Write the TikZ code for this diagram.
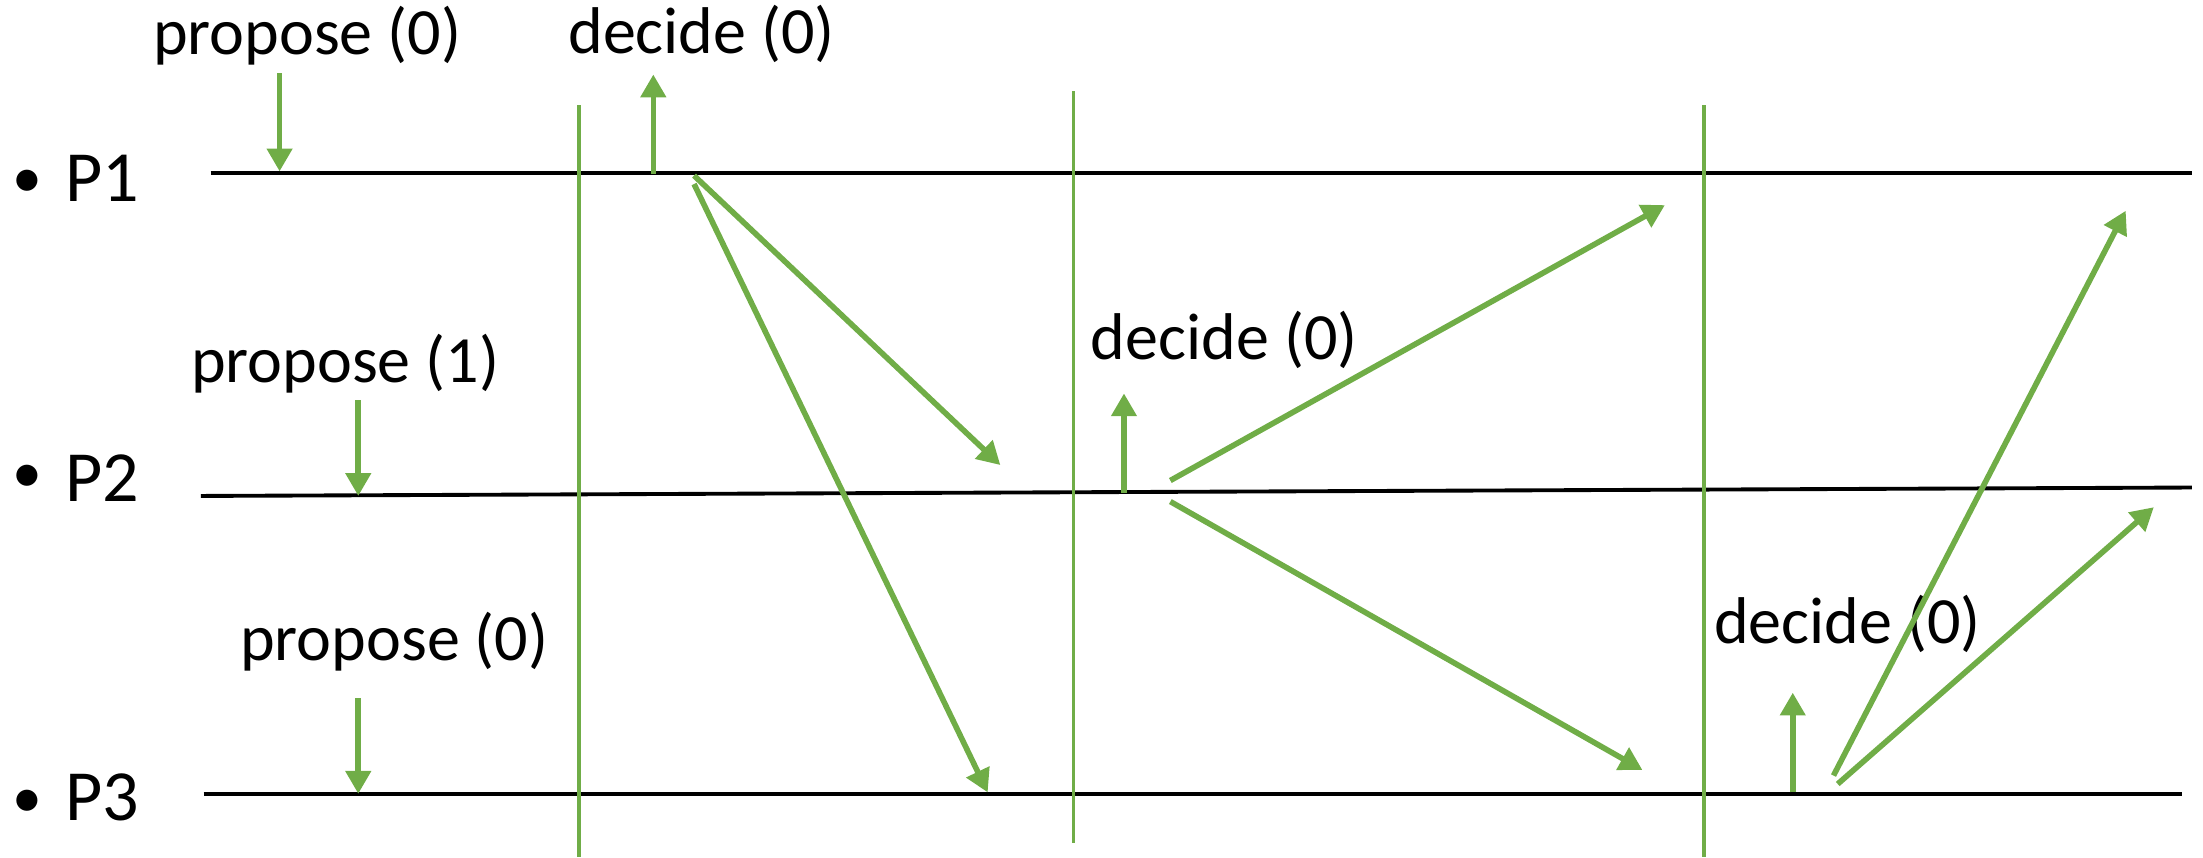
\documentclass[tikz,border=0pt]{standalone}
\usepackage{fontspec}
\setmainfont{Carlito}
\usetikzlibrary{arrows.meta}
\definecolor{ogreen}{HTML}{70AD47}
\tikzset{
  lbl/.style={anchor=base west, inner sep=0pt, font=\fontsize{18.8}{22}\selectfont},
  plbl/.style={anchor=base west, inner sep=0pt, font=\fontsize{20.5}{24}\selectfont},
  bul/.style={inner sep=0pt, font=\fontsize{17}{20}\selectfont},
  proc/.style={black, line width=1.1pt},
  round/.style={ogreen, line width=1pt},
  msg/.style={ogreen, line width=1.6pt, -{Triangle[length=6.5pt,width=7pt]}},
}
\begin{document}
\begin{tikzpicture}[x=0.01405cm, y=-0.01405cm]
\useasboundingbox (0,0) rectangle (1568,610);
% process labels
\node[bul] (b1) at (19.7,131) {•};
\node[plbl] (p1) at (46,143.5) {P1};
\node[bul] (b2) at (19.7,341) {•};
\node[plbl] (p2) at (46,356.6) {P2};
\node[bul] (b3) at (19.7,572) {•};
\node[plbl] (p3) at (46,584) {P3};
% process lines
\coordinate (l1a) at (150,123); \coordinate (l1b) at (1560,123);
\coordinate (l2a) at (143,353); \coordinate (l2b) at (1560,347);
\coordinate (l3a) at (145,565); \coordinate (l3b) at (1553,565);
\draw[proc] (l1a) -- (l1b);
\draw[proc] (l2a) -- (l2b);
\draw[proc] (l3a) -- (l3b);
% round separators
\coordinate (r1a) at (412,75);  \coordinate (r1b) at (412,610);
\coordinate (r2a) at (764,65);  \coordinate (r2b) at (764,600);
\coordinate (r3a) at (1213,75); \coordinate (r3b) at (1213,610);
\draw[round] (r1a) -- (r1b);
\draw[round] (r2a) -- (r2b);
\draw[round] (r3a) -- (r3b);
% labels
\node[lbl] (prop1) at (108.5,39) {propose (0)};
\node[lbl] (prop2) at (135.5,272.6) {propose (1)};
\node[lbl] (prop3) at (170.5,470) {propose (0)};
\node[lbl] (dec1) at (404,38) {decide (0)};
\node[lbl] (dec2) at (776,255.6) {decide (0)};
\node[lbl] (dec3) at (1219.5,458) {decide (0)};
% propose arrows
\coordinate (pa1s) at (199,52);  \coordinate (pa1e) at (199,122);
\coordinate (pa2s) at (255,285); \coordinate (pa2e) at (255,353);
\coordinate (pa3s) at (255,497); \coordinate (pa3e) at (255,565);
\draw[msg] (pa1s) -- (pa1e);
\draw[msg] (pa2s) -- (pa2e);
\draw[msg] (pa3s) -- (pa3e);
% decide arrows
\coordinate (da1s) at (465,124); \coordinate (da1e) at (465,53);
\coordinate (da2s) at (800,351); \coordinate (da2e) at (800,280);
\coordinate (da3s) at (1276,564); \coordinate (da3e) at (1276,493);
\draw[msg] (da1s) -- (da1e);
\draw[msg] (da2s) -- (da2e);
\draw[msg] (da3s) -- (da3e);
% messages
\coordinate (m1s) at (494,125);  \coordinate (m1e) at (712,331);
\coordinate (m2s) at (494,131);  \coordinate (m2e) at (703,564);
\coordinate (m3s) at (833,342);  \coordinate (m3e) at (1185,146);
\coordinate (m4s) at (833,357);  \coordinate (m4e) at (1169,548);
\coordinate (m5s) at (1305,552); \coordinate (m5e) at (1513,150);
\coordinate (m6s) at (1308,558); \coordinate (m6e) at (1533,361);
\draw[msg] (m1s) -- (m1e);
\draw[msg] (m2s) -- (m2e);
\draw[msg] (m3s) -- (m3e);
\draw[msg] (m4s) -- (m4e);
\draw[msg] (m5s) -- (m5e);
\draw[msg] (m6s) -- (m6e);
\end{tikzpicture}
\end{document}
